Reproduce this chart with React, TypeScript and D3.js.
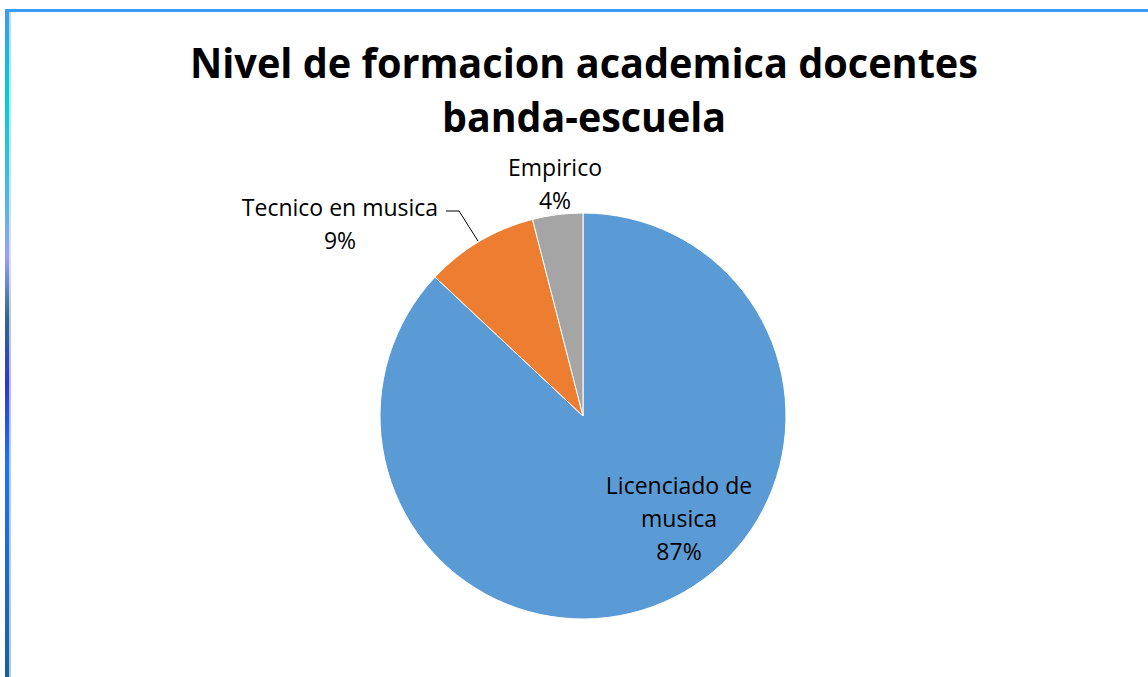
import React from "react";
import * as d3 from "d3";

const categories = ["Licenciado de musica", "Tecnico en musica", "Empirico"];
const values = [87, 9, 4];
const colors = ["#5B9BD5", "#ED7D31", "#A5A5A5"];
const titleLines = ["Nivel de formacion academica docentes", "banda-escuela"];

const W = 1148, H = 677;
const cx = 583, cy = 416, R = 203;

export default function App() {
  const pie = d3.pie<number>().sort(null).value((d) => d)(values);
  const arc = d3.arc<d3.PieArcDatum<number>>().innerRadius(0).outerRadius(R);
  const total = d3.sum(values);
  const pct = (v: number) => `${Math.round((v / total) * 100)}%`;
  const font = "'Open Sans', 'Noto Sans', sans-serif";

  return (
    <svg width={W} height={H} style={{ position: "absolute", left: 0, top: 0 }}>
      <defs>
        <linearGradient id="lb" x1="0" y1="0" x2="0" y2="1">
          <stop offset="0" stopColor="#3a9af5" />
          <stop offset="0.13" stopColor="#00cfd0" />
          <stop offset="0.3" stopColor="#5ab4e4" />
          <stop offset="0.37" stopColor="#9a9fff" />
          <stop offset="0.46" stopColor="#2f6a90" />
          <stop offset="0.56" stopColor="#3035d0" />
          <stop offset="0.68" stopColor="#1a72ff" />
          <stop offset="1" stopColor="#17609e" />
        </linearGradient>
      </defs>
      <rect x={0} y={0} width={W} height={H} fill="#ffffff" />
      <rect x={5} y={9} width={W - 5} height={3} fill="#3a9af5" />
      <rect x={5} y={9} width={4} height={H - 9} fill="url(#lb)" />
      <rect x={9} y={12} width={2} height={H - 12} fill="url(#lb)" opacity={0.35} />

      {titleLines.map((t, i) => (
        <text
          key={i}
          x={584}
          y={78 + i * 54}
          textAnchor="middle"
          fontFamily={font}
          fontWeight="bold"
          fontSize={42}
          fill="#000"
          textLength={i === 0 ? 788 : 284}
          lengthAdjust="spacingAndGlyphs"
        >
          {t}
        </text>
      ))}

      <g transform={`translate(${cx},${cy})`}>
        {pie.map((p, i) => (
          <path key={i} d={arc(p) || ""} fill={colors[i]} stroke="#ffffff" strokeWidth={1} />
        ))}
      </g>

      <g fontFamily={font} fontSize={23} fill="#000" textAnchor="middle">
        <text x={679} y={494}>Licenciado de</text>
        <text x={679} y={527}>musica</text>
        <text x={679} y={560}>{pct(values[0])}</text>

        <text x={340} y={216}>{categories[1]}</text>
        <text x={340} y={249}>{pct(values[1])}</text>

        <text x={555} y={176}>{categories[2]}</text>
        <text x={555} y={209}>{pct(values[2])}</text>
      </g>
      <polyline points="446,211 459,211 478,241" fill="none" stroke="#000" strokeWidth={1} />
    </svg>
  );
}
